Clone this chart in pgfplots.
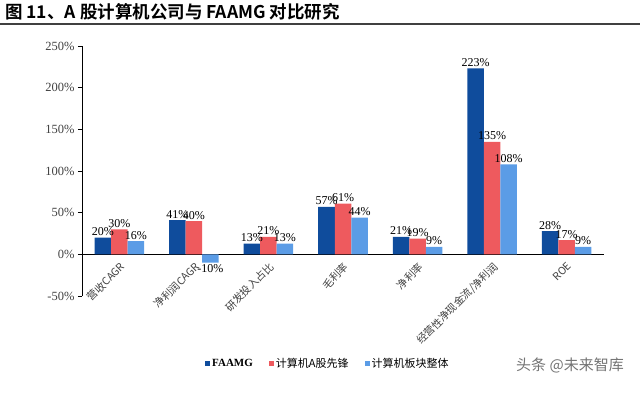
\documentclass[border=0pt]{standalone}
\usepackage{pgfplots}
\pgfplotsset{compat=1.18}
\usepackage{fontspec}
\setmainfont{Liberation Serif}
\newfontfamily\cjk[BoldFont={Noto Sans CJK SC Bold}]{Noto Sans CJK SC}
\definecolor{cA}{HTML}{0F4C9C}
\definecolor{cB}{HTML}{EE5A5E}
\definecolor{cC}{HTML}{5B9CE6}
\begin{document}
\begin{tikzpicture}
\useasboundingbox (-82bp,-98bp) rectangle (558bp,296bp);
\node[anchor=west, inner sep=0pt] at (-77bp,284bp) {\cjk\bfseries\fontsize{17.5bp}{20bp}\selectfont 图 11、A 股计算机公司与 FAAMG 对比研究};
\draw[line width=1.5bp, black!75] (-82bp,272bp) -- (558bp,272bp);
\node[anchor=center, text=black!55, inner sep=0pt] at (488bp,-69bp) {\cjk\fontsize{15bp}{18bp}\selectfont 头条 @未来智库};
\begin{axis}[
  at={(0,0)}, anchor=south west,
  scale only axis, width=522bp, height=250bp,
  xmin=-0.5, xmax=6.5, ymin=-50, ymax=250,
  axis x line=middle, axis y line=left,
  axis line style={-, black, line width=0.8bp},
  hide obscured y ticks=false,
  ytick={-50,0,50,100,150,200,250},
  yticklabel={\pgfmathprintnumber{\tick}\%},
  /pgf/number format/assume math mode=true,
  yticklabel style={font=\fontsize{12.5bp}{14bp}\selectfont, text=black!75},
  y tick style={black, line width=0.8bp},
  tick align=outside, major tick length=4bp,
  xtick={0,1,2,3,4,5,6},
  x tick style={draw=none},
  xticklabels={营收CAGR,净利润CAGR,研发投入占比,毛利率,净利率,经营性净现金流/净利润,ROE},
  xticklabel style={rotate=45, anchor=north east, font=\cjk\fontsize{10.5bp}{12bp}\selectfont, text=black!75, inner sep=2bp},
  ybar=0pt, bar width=16.5bp,
  nodes near coords={\pgfmathprintnumber{\pgfplotspointmeta}\%},
  every node near coord/.append style={font=\fontsize{12bp}{13bp}\selectfont, text=black, inner sep=1.5bp},
  legend style={at={(0.471,-0.272)}, anchor=center, draw=none, legend columns=3,
    font=\fontsize{11bp}{13bp}\selectfont, /tikz/every even column/.append style={column sep=14bp}},
  legend image code/.code={\fill[#1] (0bp,-2bp) rectangle (5bp,3bp);},
]
\addplot[fill=cA, draw=none] coordinates {(0,20) (1,41) (2,13) (3,57) (4,21) (5,223) (6,28)};
\addplot[fill=cB, draw=none] coordinates {(0,30) (1,40) (2,21) (3,61) (4,19) (5,135) (6,17)};
\addplot[fill=cC, draw=none] coordinates {(0,16) (1,-10) (2,13) (3,44) (4,9) (5,108) (6,9)};
\legend{\textbf{FAAMG},{\cjk 计算机A股先锋},{\cjk 计算机板块整体}}
\end{axis}
\end{tikzpicture}
\end{document}
